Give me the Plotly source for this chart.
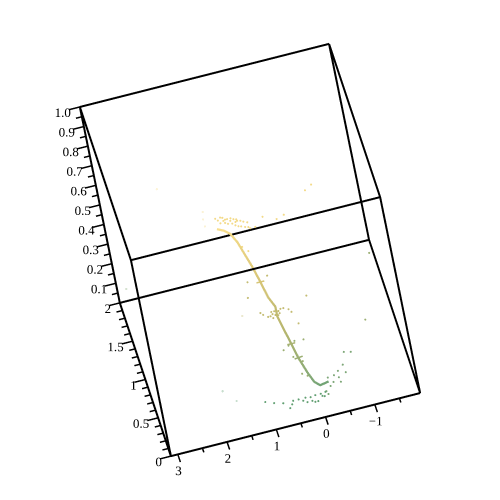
import plotly.graph_objects as go

# box limits
x_lim = [-1.92, 3.14]
y_lim = [0, 2]
z_lim = [0, 1]

x_major = [3, 2, 1, 0, -1]
x_minor = [2.5, 1.5, 0.5, -0.5, -1.5]
x_text = ["3", "2", "1", "0", "\u22121"]
y_major = [0, 0.5, 1, 1.5, 2]
y_minor = [0.1, 0.2, 0.3, 0.4, 0.6, 0.7, 0.8, 0.9, 1.1, 1.2, 1.3, 1.4, 1.6, 1.7, 1.8, 1.9]
y_text = ["0", "0.5", "1", "1.5", "2"]
z_major = [0.1, 0.2, 0.3, 0.4, 0.5, 0.6, 0.7, 0.8, 0.9, 1.0]
z_minor = [0.05, 0.15, 0.25, 0.35, 0.45, 0.55, 0.65, 0.75, 0.85, 0.95]
z_text = ["0.1", "0.2", "0.3", "0.4", "0.5", "0.6", "0.7", "0.8", "0.9", "1.0"]

# main curve
curve_x = [1.06, 0.94, 0.83, 0.74, 0.68, 0.59, 0.52, 0.46, 0.37, 0.39, 0.34, 0.27, 0.21, 0.11, 0.03, -0.07, -0.25]
curve_y = [1.55, 1.51, 1.50, 1.43, 1.34, 1.21, 1.08, 0.92, 0.86, 0.76, 0.64, 0.54, 0.42, 0.31, 0.26, 0.25, 0.27]
curve_z = [0.42, 0.42, 0.40, 0.38, 0.36, 0.33, 0.30, 0.28, 0.25, 0.24, 0.22, 0.18, 0.15, 0.11, 0.08, 0.06, 0.06]

# short crossing strokes on the curve
cross_x = [0.60, 0.44, None, 0.35, 0.19, None, 0.29, 0.12]
cross_y = [1.08, 1.08, None, 0.54, 0.54, None, 0.42, 0.43]
cross_z = [0.30, 0.30, None, 0.18, 0.18, None, 0.15, 0.15]
cross_shade = [0.30, 0.30, 0.30, 0.18, 0.18, 0.18, 0.15, 0.15]

# scattered points
cloud_x = [1.02, 0.98, 0.92, 0.88, 0.80, 0.75, 0.68, 0.62, 0.56, 0.51, 0.44, 0.95, 0.86, 0.73, 0.63, 0.51, 0.42, 0.32,
           0.12, -0.13, -0.29, 0.69, 0.60, -0.99, -0.84,
           0.81, 0.68, 0.58, 0.45, 0.88, 0.73, 0.63, 0.84, 0.66,
           0.33, 0.74, -0.28, 0.83, 0.57, 0.47, 0.42, 0.34, 0.29, 0.23, 0.14, 0.10, 0.69, 0.65, 0.52, 0.42, 0.37,
           0.48, 0.04, 0.39, 0.48, 0.33,
           0.18, 0.00, 0.32, 0.44, 0.30, 0.15, 0.24, 0.15, -1.77, -1.28,
           -0.71, -0.84, -0.61, -0.48, -0.38, -0.25, -0.62, -0.46, -0.47, -0.33, -0.25, -0.14, -0.16,
           1.05, 0.89, 0.72, 0.52, 0.41, 0.27, 0.17, 0.07, -0.04, -0.14, 0.33, 0.26, 0.16, 0.11, 0.05, -0.06, -0.10,
           0.62, 0.56]
cloud_y = [1.73, 1.70, 1.73, 1.68, 1.69, 1.66, 1.67, 1.64, 1.63, 1.61, 1.59, 1.66, 1.65, 1.62, 1.57, 1.54, 1.51, 1.51,
           1.61, 1.54, 1.57, 1.31, 1.24, 1.85, 1.80,
           1.63, 1.59, 1.56, 1.53, 1.72, 1.69, 1.66, 1.69, 1.63,
           1.26, 1.24, 0.90, 1.05, 0.76, 0.78, 0.81, 0.80, 0.82, 0.82, 0.79, 0.75, 0.83, 0.80, 0.76, 0.76, 0.75,
           0.73, 0.59, 0.78, 0.81, 0.77,
           0.64, 0.63, 0.60, 0.56, 0.45, 0.37, 0.22, 0.18, 1.47, 0.68,
           0.53, 0.51, 0.38, 0.32, 0.28, 0.27, 0.28, 0.24, 0.18, 0.20, 0.16, 0.11, 0.07,
           0.29, 0.25, 0.22, 0.22, 0.22, 0.22, 0.21, 0.22, 0.22, 0.23, 0.19, 0.16, 0.16, 0.14, 0.14, 0.19, 0.18,
           0.14, 0.18]
cloud_z = [0.40] * 34 + [0.25] * 22 + [0.15] * 10 + [0.08] * 13 + [0.03] * 19

# very pale outliers
faint_x = [1.25, 1.26, 1.21, 2.07, 1.05, 1.78, 1.58, 2.98]
faint_y = [1.76, 1.67, 1.85, 1.52, 0.85, 0.55, 0.39, 1.90]
faint_z = [0.40, 0.40, 0.40, 0.70, 0.25, 0.03, 0.03, 0.10]

SHADES = [[0, "#4f9a6e"], [0.2, "#80a878"], [0.5, "#b5b56e"], [0.75, "#dcc878"], [1, "#f8de8c"]]
SERIF = "Liberation Serif"


def segments(starts, ends):
    # join 3d point pairs into one trace with gaps
    xs, ys, zs = [], [], []
    for a, b in zip(starts, ends):
        xs += [a[0], b[0], None]
        ys += [a[1], b[1], None]
        zs += [a[2], b[2], None]
    return xs, ys, zs


x0, x1 = x_lim[1], x_lim[0]
y0, y1 = y_lim
z0, z1 = z_lim

corner_a = [(x0, y0, z0), (x1, y0, z0), (x1, y1, z0), (x0, y1, z0)]
corner_b = [(x0, y0, z1), (x1, y0, z1), (x1, y1, z1), (x0, y1, z1)]

frame_start = corner_a + corner_b + corner_a
frame_end = corner_a[1:] + corner_a[:1] + corner_b[1:] + corner_b[:1] + corner_b

tick_start, tick_end, minor_start, minor_end = [], [], [], []
for v in x_major + x_minor:
    big = v in x_major
    (tick_start if big else minor_start).append((v, y0, z0))
    (tick_end if big else minor_end).append((v, y0 - (0.1 if big else 0.055), z0))
for v in y_major + y_minor:
    big = v in y_major
    (tick_start if big else minor_start).append((x0, v, z0))
    (tick_end if big else minor_end).append((x0 + (0.22 if big else 0.12), v, z0))
for v in [1.0] + z_major[:-1] + z_minor:
    big = v in z_major
    (tick_start if big else minor_start).append((x0, y1, v))
    (tick_end if big else minor_end).append((x0 + (0.22 if big else 0.12), y1, v))

fig = go.Figure()

fx, fy, fz = segments(frame_start, frame_end)
fig.add_trace(go.Scatter3d(x=fx, y=fy, z=fz, mode="lines", line=dict(color="black", width=4)))

tx, ty, tz = segments(tick_start + minor_start, tick_end + minor_end)
fig.add_trace(go.Scatter3d(x=tx, y=ty, z=tz, mode="lines", line=dict(color="black", width=3)))

fig.add_trace(go.Scatter3d(
    x=curve_x, y=curve_y, z=curve_z,
    mode="lines",
    line=dict(color=curve_z, colorscale=SHADES, cmin=0, cmax=0.42, width=4.5),
))

fig.add_trace(go.Scatter3d(
    x=cross_x, y=cross_y, z=cross_z,
    mode="lines",
    line=dict(color=cross_shade, colorscale=SHADES, cmin=0, cmax=0.42, width=3),
))

fig.add_trace(go.Scatter3d(
    x=cloud_x, y=cloud_y, z=cloud_z,
    mode="markers",
    marker=dict(color=cloud_z, colorscale=SHADES, cmin=0, cmax=0.42, size=1.2, line=dict(width=0)),
))

fig.add_trace(go.Scatter3d(
    x=faint_x, y=faint_y, z=faint_z,
    mode="markers",
    opacity=0.35,
    marker=dict(color=faint_z, colorscale=SHADES, cmin=0, cmax=0.42, size=1.3, line=dict(width=0)),
))

# tick labels
fig.add_trace(go.Scatter3d(
    x=[v + 0.09 for v in x_major], y=[y0 - 0.2] * len(x_major), z=[z0] * len(x_major),
    mode="text", text=x_text, textposition="middle center",
    textfont=dict(family=SERIF, size=13, color="black"),
))
fig.add_trace(go.Scatter3d(
    x=[x0 - 0.03] * len(y_major), y=[v - 0.08 for v in y_major], z=[z0] * len(y_major),
    mode="text", text=y_text, textposition="middle left",
    textfont=dict(family=SERIF, size=13, color="black"),
))
fig.add_trace(go.Scatter3d(
    x=[x0 - 0.03] * len(z_major), y=[y1 - 0.08] * len(z_major), z=z_major,
    mode="text", text=z_text, textposition="middle left",
    textfont=dict(family=SERIF, size=13, color="black"),
))

# axis ranges are padded evenly so ticks and labels are not clipped
PAD_X, PAD_Y, PAD_Z = 0.6, 0.5, 0.05
VIEW = (-0.0587, 0.782, -0.620)
ZOOM_DIST = 1.94
SHIFT = (-0.0232, -0.0252, -0.0296)
SIZE = 1.03
hidden = dict(visible=False, showgrid=False, zeroline=False, showbackground=False)
fig.update_layout(
    width=500,
    height=500,
    margin=dict(l=0, r=0, t=0, b=0),
    paper_bgcolor="white",
    showlegend=False,
    scene=dict(
        domain=dict(x=[0, 1], y=[0, 1]),
        xaxis=dict(range=[x_lim[0] - PAD_X, x_lim[1] + PAD_X], **hidden),
        yaxis=dict(range=[y_lim[0] - PAD_Y, y_lim[1] + PAD_Y], **hidden),
        zaxis=dict(range=[z_lim[0] - PAD_Z, z_lim[1] + PAD_Z], **hidden),
        aspectmode="manual",
        aspectratio=dict(
            x=SIZE * (x_lim[1] - x_lim[0] + 2 * PAD_X) / (x_lim[1] - x_lim[0]),
            y=SIZE * (y_lim[1] - y_lim[0] + 2 * PAD_Y) / (y_lim[1] - y_lim[0]) * 1.007,
            z=SIZE * (z_lim[1] - z_lim[0] + 2 * PAD_Z) / (z_lim[1] - z_lim[0]) * 0.99,
        ),
        camera=dict(
            projection=dict(type="orthographic"),
            center=dict(x=SHIFT[0], y=SHIFT[1], z=SHIFT[2]),
            eye=dict(
                x=ZOOM_DIST * VIEW[0] + SHIFT[0],
                y=ZOOM_DIST * VIEW[1] + SHIFT[1],
                z=ZOOM_DIST * VIEW[2] + SHIFT[2],
            ),
            up=dict(x=-0.245, y=0.591, z=0.769),
        ),
    ),
)

fig.write_html("out.html")
